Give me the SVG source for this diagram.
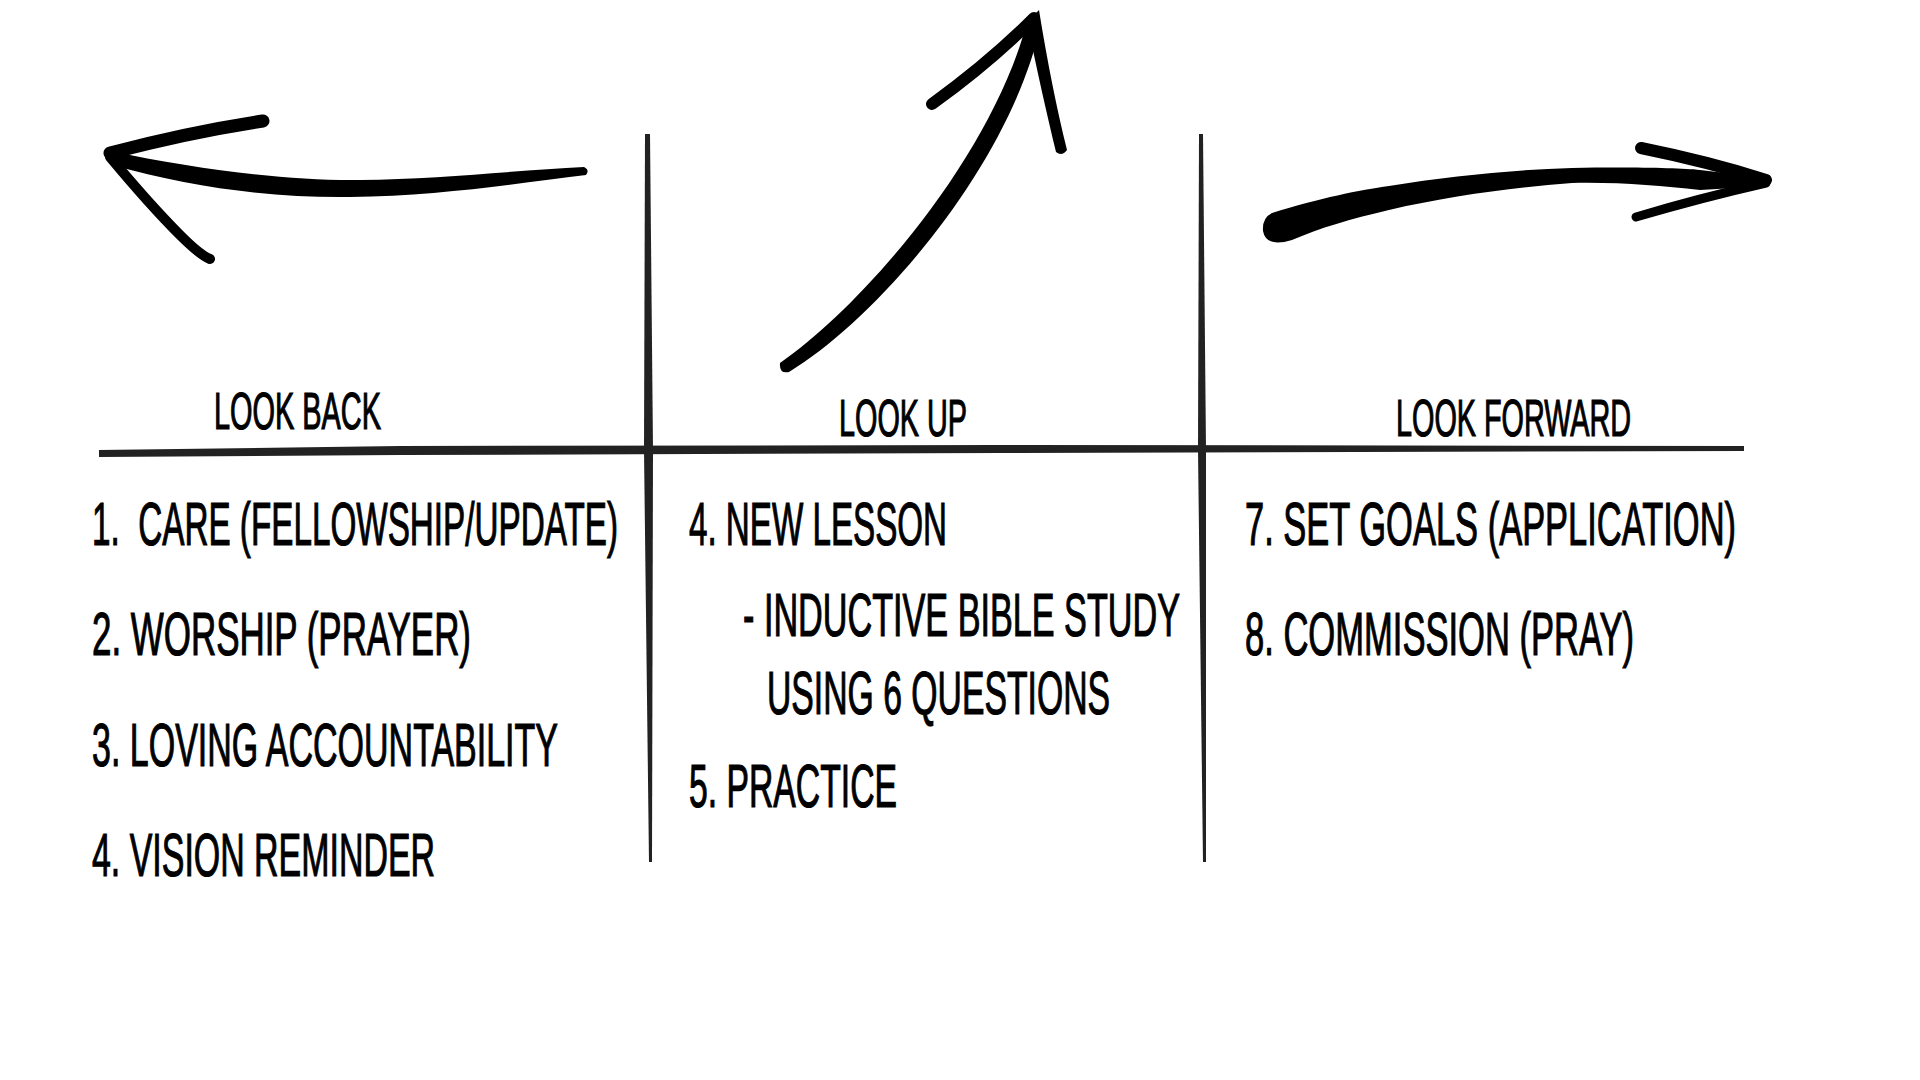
<svg xmlns="http://www.w3.org/2000/svg" width="1920" height="1080" viewBox="0 0 1920 1080">
<style>
.t{font-family:"Liberation Sans",Arial,sans-serif;fill:#000;stroke:#000;stroke-width:1.2;white-space:pre}
.h{font-size:52px}
.b{font-size:62px}
.ink{fill:#000}
.brush{fill:none;stroke:#000;stroke-linecap:round;stroke-linejoin:round}
.grid{fill:#222}
</style>
<rect width="1920" height="1080" fill="#fff"/>
<g id="connectors">
  <g id="arrow-back">
    <path class="ink" d="M110,151 C200,170 290,181 360,180 C440,179 520,170 584,167 Q590,170 586,175 C520,183 440,196 350,197 C270,198 190,187 112,165 Z"/>
    <path class="brush" stroke-width="13" d="M110,153 Q190,132 263,121"/>
    <path class="brush" stroke-width="10" d="M110,157 Q150,205 180,235 Q200,255 210,259"/>
  </g>
  <g id="arrow-up">
    <path class="ink" d="M780,363 C866,303 992,155 1027,22 L1041,24 C1010,165 878,318 789,372 Q779,374 780,363 Z"/>
    <path class="brush" stroke-width="12" d="M932,104 Q990,62 1034,18"/>
    <path class="ink" d="M1027,22 L1039,10 C1047,60 1057,110 1067,150 Q1062,157 1056,152 C1047,115 1037,70 1027,22 Z"/>
  </g>
  <g id="arrow-forward">
    <path class="ink" d="M1272,213 C1320,198 1360,190 1389,186 C1450,176 1510,170 1572,168 C1630,167 1680,168 1700,170 L1767,178 L1768,186 L1700,190 C1660,186 1620,182 1572,183 C1510,188 1450,196 1389,210 C1350,219 1320,228 1292,240 Q1266,248 1263,231 Q1262,218 1272,213 Z"/>
    <path class="brush" stroke-width="12" d="M1641,148 Q1710,162 1766,180"/>
    <path class="brush" stroke-width="9" d="M1766,183 Q1700,198 1636,217"/>
  </g>
</g>
<g id="grid">
  <path class="grid" d="M99,450 L400,446 L1000,445 L1744,446 L1744,451 L1000,453 L400,455 L99,457 Z"/>
  <path class="grid" d="M645,134 L650,134 L653,450 L652,862 L649,862 L644,450 Z"/>
  <path class="grid" d="M1199,134 L1203,134 L1206,450 L1206,862 L1203,862 L1198,450 Z"/>
</g>
<g id="col-back">
  <text class="t h" x="214" y="429" textLength="167" lengthAdjust="spacingAndGlyphs">LOOK BACK</text>
  <text class="t b" x="92" y="545" textLength="526" lengthAdjust="spacingAndGlyphs">1.  CARE (FELLOWSHIP/UPDATE)</text>
  <text class="t b" x="92" y="655" textLength="379" lengthAdjust="spacingAndGlyphs">2. WORSHIP (PRAYER)</text>
  <text class="t b" x="92" y="766" textLength="466" lengthAdjust="spacingAndGlyphs">3. LOVING ACCOUNTABILITY</text>
  <text class="t b" x="92" y="876" textLength="343" lengthAdjust="spacingAndGlyphs">4. VISION REMINDER</text>
</g>
<g id="col-up">
  <text class="t h" x="839" y="436" textLength="128" lengthAdjust="spacingAndGlyphs">LOOK UP</text>
  <text class="t b" x="689" y="545" textLength="258" lengthAdjust="spacingAndGlyphs">4. NEW LESSON</text>
  <text class="t b" x="743" y="636" textLength="437" lengthAdjust="spacingAndGlyphs">- INDUCTIVE BIBLE STUDY</text>
  <text class="t b" x="767" y="714" textLength="343" lengthAdjust="spacingAndGlyphs">USING 6 QUESTIONS</text>
  <text class="t b" x="689" y="807" textLength="208" lengthAdjust="spacingAndGlyphs">5. PRACTICE</text>
</g>
<g id="col-forward">
  <text class="t h" x="1396" y="436" textLength="235" lengthAdjust="spacingAndGlyphs">LOOK FORWARD</text>
  <text class="t b" x="1245" y="545" textLength="491" lengthAdjust="spacingAndGlyphs">7. SET GOALS (APPLICATION)</text>
  <text class="t b" x="1245" y="655" textLength="389" lengthAdjust="spacingAndGlyphs">8. COMMISSION (PRAY)</text>
</g>
</svg>
